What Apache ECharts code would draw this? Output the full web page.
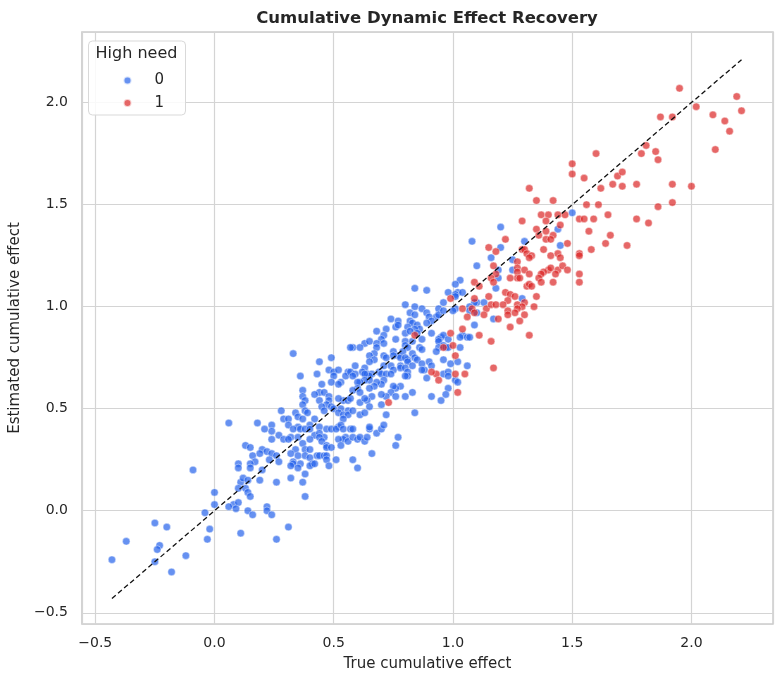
<!DOCTYPE html>
<html>
<head>
<meta charset="utf-8">
<script src="https://cdn.jsdelivr.net/npm/echarts@6/dist/echarts.min.js"></script>
<style>
html, body { margin: 0; padding: 0; background: #fff; }
#main { width: 784px; height: 684px; }
</style>
</head>
<body>
<div id="main"></div>
<script>
// points, [true effect, estimated effect]
var lowNeed = [
  [0.06,0.43],[0.18,0.43],[0.24,0.42],[0.24,0.39],[0.21,0.40],[0.27,0.37],[0.24,0.35],[0.29,0.35],[0.13,0.32],[0.15,0.31],
  [0.20,0.30],[0.22,0.29],[0.19,0.28],[0.16,0.27],[0.24,0.28],[0.26,0.27],[0.27,0.24],[0.23,0.25],[0.17,0.24],[0.10,0.23],
  [0.10,0.21],[0.15,0.23],[0.15,0.21],[0.20,0.20],[-0.09,0.20],[0.19,0.15],[0.26,0.14],[0.11,0.14],[0.12,0.16],[0.14,0.15],
  [0.10,0.11],[0.13,0.11],[0.14,0.09],[0.15,0.07],[0.00,0.09],[0.00,0.03],[0.08,0.03],[0.10,0.04],[0.06,0.02],[0.09,0.01],
  [0.14,0.00],[0.16,-0.02],[0.22,0.02],[0.22,0.00],[0.24,-0.02],[-0.04,-0.01],[-0.25,-0.06],[-0.20,-0.08],[-0.02,-0.09],[0.11,-0.11],
  [-0.03,-0.14],[0.26,-0.14],[-0.37,-0.15],[-0.23,-0.17],[-0.24,-0.19],[-0.12,-0.22],[-0.25,-0.25],[-0.43,-0.24],[-0.18,-0.30],
  [0.31,-0.08],[0.37,0.14],[0.38,0.07],[0.32,0.16],
  [0.33,0.77],[0.49,0.75],[0.44,0.73],[0.36,0.66],[0.43,0.67],[0.48,0.69],[0.50,0.68],[0.52,0.69],[0.56,0.68],[0.55,0.66],
  [0.50,0.66],[0.49,0.63],[0.53,0.63],[0.52,0.62],[0.45,0.62],[0.44,0.58],[0.37,0.59],[0.37,0.56],[0.38,0.54],[0.37,0.52],
  [0.42,0.57],[0.46,0.58],[0.48,0.56],[0.48,0.54],[0.44,0.54],[0.47,0.52],[0.45,0.51],[0.54,0.54],[0.52,0.55],[0.49,0.51],
  [0.50,0.50],[0.56,0.54],[0.57,0.55],[0.56,0.49],[0.53,0.50],[0.28,0.49],[0.38,0.49],[0.39,0.48],[0.46,0.49],[0.52,0.48],
  [0.54,0.47],[0.56,0.47],[0.54,0.45],[0.34,0.48],[0.35,0.46],[0.29,0.45],[0.31,0.45],[0.37,0.45],[0.42,0.45],
  [0.31,0.42],[0.35,0.41],[0.33,0.40],[0.36,0.40],[0.32,0.36],[0.31,0.35],[0.35,0.36],[0.40,0.42],[0.38,0.40],[0.40,0.40],
  [0.42,0.37],[0.40,0.35],[0.44,0.41],[0.44,0.38],[0.46,0.36],[0.44,0.36],[0.45,0.34],[0.47,0.40],[0.49,0.40],[0.47,0.32],
  [0.47,0.31],[0.49,0.31],[0.37,0.33],[0.38,0.30],[0.40,0.30],[0.34,0.30],[0.35,0.27],[0.32,0.28],[0.33,0.24],[0.33,0.23],
  [0.32,0.22],[0.36,0.23],[0.35,0.21],[0.38,0.27],[0.40,0.26],[0.41,0.23],[0.40,0.22],[0.42,0.23],[0.38,0.18],[0.43,0.27],
  [0.44,0.27],[0.46,0.27],[0.47,0.27],[0.51,0.25],[0.47,0.25],[0.48,0.22],[0.52,0.41],[0.51,0.40],[0.53,0.42],[0.54,0.40],
  [0.55,0.36],[0.54,0.35],[0.56,0.34],[0.52,0.35],[0.53,0.32],[0.57,0.40],[0.58,0.40],[0.58,0.36],[0.60,0.35],[0.61,0.36],
  [0.63,0.34],[0.65,0.40],[0.65,0.41],[0.64,0.36],[0.68,0.38],[0.70,0.40],[0.58,0.25],[0.60,0.21],[0.66,0.28],[0.71,0.42],
  [0.77,0.36],[0.76,0.32],
  [1.08,1.32],[1.16,1.24],[1.10,1.20],[1.19,1.18],[1.19,1.14],[1.03,1.13],[1.01,1.11],[1.18,1.09],[0.84,1.09],[0.89,1.08],
  [0.98,1.07],[1.02,1.07],[1.01,1.06],[1.04,1.07],[1.01,1.05],[1.10,1.02],[1.09,1.02],[1.13,1.02],[0.96,1.02],[1.01,0.99],
  [1.00,0.98],[1.07,1.00],[1.07,0.98],[1.10,0.97],[1.17,0.94],[0.84,1.00],[0.80,1.01],[0.87,0.99],[0.89,0.97],[0.94,0.99],
  [0.93,0.95],[0.94,0.96],[0.96,0.98],[0.90,0.95],[0.91,0.93],[0.82,0.97],[0.84,0.96],[0.82,0.93],[0.83,0.92],[0.81,0.90],
  [0.74,0.94],[0.77,0.93],[0.76,0.90],[0.77,0.91],[0.85,0.91],[0.86,0.89],[0.84,0.89],[0.85,0.87],[0.89,0.92],[0.91,0.87],
  [0.80,0.87],[0.82,0.88],[0.72,0.89],[0.68,0.88],[0.87,0.84],[0.80,0.83],[0.83,0.83],[0.71,0.86],[0.70,0.84],[0.76,0.84],
  [1.04,0.86],[1.03,0.85],[0.95,0.85],[0.96,0.86],[0.94,0.84],[0.94,0.83],[0.98,0.84],[1.06,0.85],[1.07,0.85],[0.63,0.82],
  [0.65,0.83],[0.58,0.80],[0.57,0.80],[0.61,0.80],[0.68,0.82],[0.68,0.80],[0.67,0.77],[0.71,0.82],[0.80,0.81],[0.81,0.80],
  [0.86,0.80],[0.87,0.79],[0.96,0.81],[0.97,0.80],[0.98,0.80],[0.94,0.80],[1.03,0.80],[0.93,0.78],[0.75,0.78],[0.77,0.76],
  [0.75,0.76],[0.78,0.75],[0.71,0.76],[0.72,0.75],[0.65,0.76],[0.67,0.74],[0.65,0.73],[0.83,0.77],[0.84,0.75],[0.81,0.74],
  [0.79,0.78],[0.80,0.75],[0.81,0.73],[0.85,0.74],[0.96,0.74],[0.99,0.72],[1.06,0.71],[1.02,0.73],[0.59,0.71],[0.57,0.68],
  [0.63,0.70],[0.62,0.68],[0.64,0.67],[0.66,0.67],[0.65,0.66],[0.71,0.71],[0.69,0.68],[0.70,0.67],[0.72,0.67],[0.74,0.71],
  [0.75,0.69],[0.74,0.67],[0.78,0.71],[0.78,0.70],[0.80,0.70],[0.81,0.68],[0.81,0.66],[0.80,0.66],[0.83,0.71],[0.87,0.72],
  [0.88,0.69],[0.87,0.69],[0.90,0.73],[0.91,0.71],[0.89,0.65],[0.96,0.67],[0.98,0.68],[1.01,0.64],[1.02,0.63],[0.98,0.66],
  [0.98,0.60],[0.97,0.57],[0.91,0.56],[0.95,0.54],[0.83,0.58],[0.80,0.56],[0.84,0.48],[0.78,0.61],[0.76,0.60],[0.75,0.61],
  [0.74,0.58],[0.72,0.56],[0.76,0.56],[0.71,0.64],[0.70,0.62],[0.68,0.63],[0.65,0.64],[0.67,0.61],[0.65,0.60],[0.63,0.67],
  [0.63,0.64],[0.61,0.63],[0.59,0.67],[0.58,0.66],[0.60,0.63],[0.60,0.60],[0.58,0.59],[0.61,0.58],[0.70,0.57],[0.66,0.56],
  [0.64,0.54],[0.61,0.53],[0.63,0.55],[0.65,0.51],[0.70,0.52],[0.72,0.47],[0.61,0.47],[0.63,0.48],[0.58,0.49],[1.09,0.91],
  [1.20,1.39],[1.50,1.46],[1.44,1.38],[1.30,1.32],[1.45,1.30],[1.20,1.29],[1.25,1.23],[1.25,1.18],[1.29,1.04]
];

var highNeed = [
  [1.15,1.29],[1.18,1.27],[1.17,1.20],[1.18,1.16],[1.16,1.14],[1.17,1.12],[1.09,1.12],[1.11,1.10],[1.09,1.04],[1.15,1.05],
  [1.14,0.99],[1.16,1.01],[1.18,1.01],[0.99,1.04],[1.04,0.99],[1.08,0.99],[1.09,0.97],[1.13,0.96],[1.06,0.95],[1.19,0.94],
  [0.84,0.86],[0.99,0.87],[1.04,0.89],[1.11,0.86],[1.16,0.83],[0.96,0.80],[1.00,0.81],[1.01,0.76],[0.93,0.67],[0.91,0.68],
  [0.94,0.64],[1.01,0.67],[1.05,0.67],[1.02,0.58],[0.73,0.53],[1.17,0.70],
  [1.32,1.58],[1.35,1.52],[1.42,1.52],[1.62,1.58],[1.67,1.60],[1.71,1.59],[1.77,1.60],[1.92,1.60],[2.00,1.59],[1.56,1.50],
  [1.61,1.50],[1.92,1.51],[1.86,1.49],[1.65,1.45],[1.77,1.43],[1.82,1.41],[1.37,1.45],[1.40,1.45],[1.44,1.45],[1.47,1.45],
  [1.53,1.43],[1.55,1.43],[1.59,1.43],[1.29,1.42],[1.39,1.42],[1.45,1.40],[1.57,1.37],[1.35,1.38],[1.39,1.37],[1.42,1.35],
  [1.36,1.35],[1.66,1.35],[1.39,1.33],[1.41,1.33],[1.22,1.33],[1.64,1.31],[1.73,1.30],[1.48,1.31],[1.29,1.28],[1.30,1.28],
  [1.38,1.28],[1.58,1.28],[1.53,1.26],[1.53,1.25],[1.31,1.26],[1.33,1.25],[1.32,1.24],[1.41,1.25],[1.44,1.26],[1.45,1.24],
  [1.27,1.22],[1.27,1.19],[1.30,1.18],[1.40,1.18],[1.38,1.17],[1.41,1.19],[1.44,1.18],[1.46,1.20],[1.48,1.18],[1.53,1.16],
  [1.27,1.17],[1.27,1.14],[1.28,1.14],[1.32,1.16],[1.43,1.16],[1.37,1.16],[1.36,1.14],[1.37,1.12],[1.42,1.12],[1.53,1.12],
  [1.24,1.14],[1.31,1.10],[1.32,1.11],[1.33,1.10],[1.22,1.07],[1.24,1.06],[1.26,1.05],[1.35,1.05],[1.23,1.03],[1.21,1.01],
  [1.27,1.01],[1.30,1.02],[1.29,1.00],[1.34,1.00],[1.27,0.99],[1.23,0.98],[1.23,0.96],[1.26,0.97],[1.30,0.96],[1.28,0.93],
  [1.24,0.90],[1.32,0.86],
  [1.95,2.07],[2.19,2.03],[2.02,1.98],[2.21,1.96],[2.09,1.94],[2.14,1.91],[2.16,1.86],[2.10,1.77],[1.87,1.93],[1.92,1.93],
  [1.60,1.75],[1.50,1.70],[1.50,1.65],[1.55,1.63],[1.69,1.64],[1.71,1.66],[1.79,1.75],[1.81,1.79],[1.85,1.76],[1.86,1.72]
];

// ends of the y = x reference line
var diagonal = [-0.43, 2.21];
var xRange = [-0.556, 2.342];
var yRange = [-0.555, 2.346];

var FONT = '"DejaVu Sans", sans-serif';
var TEXT = '#262626';

function tickFormat(v) {
  return (v < 0 ? '\u2212' : '') + Math.abs(v).toFixed(1);
}

function axisBase(range, name, gap) {
  return {
    type: 'value',
    min: range[0],
    max: range[1],
    name: name,
    nameLocation: 'middle',
    nameGap: gap,
    nameTextStyle: { fontSize: 15, color: TEXT, fontFamily: FONT },
    axisLine: { show: false },
    axisTick: { show: false },
    axisLabel: {
      fontSize: 14, color: TEXT, fontFamily: FONT,
      showMinLabel: false, showMaxLabel: false,
      formatter: tickFormat
    },
    splitLine: { lineStyle: { color: '#d4d4d4', width: 1.2 } }
  };
}

var xAxis = axisBase(xRange, 'True cumulative effect', 33);
xAxis.axisLabel.margin = 12;
var yAxis = axisBase(yRange, 'Estimated cumulative effect', 49);
yAxis.axisLabel.margin = 14;

var myChart = echarts.init(document.getElementById('main'));
myChart.setOption({
  animation: false,
  backgroundColor: '#fff',
  grid: {
    left: 81, right: 11, top: 32, bottom: 60,
    show: true, borderColor: '#cccccc', borderWidth: 1.5
  },
  xAxis: xAxis,
  yAxis: yAxis,
  legend: {
    data: ['0', '1'],
    orient: 'vertical',
    left: 122.5,
    top: 72.5,
    padding: 0,
    itemWidth: 8,
    itemHeight: 8,
    itemGap: 6.6,
    icon: 'circle',
    textStyle: { fontSize: 15, color: TEXT, fontFamily: FONT, lineHeight: 16, padding: [0, 0, 0, 18] },
    z: 6
  },
  graphic: [
    {
      type: 'rect', z: 5,
      shape: { x: 88.5, y: 41, width: 97, height: 74, r: 4 },
      style: { fill: 'rgba(255,255,255,0.85)', stroke: '#d9d9d9', lineWidth: 1 }
    },
    {
      type: 'text', z: 6, x: 136.5, y: 54,
      style: {
        text: 'High need', fill: TEXT,
        font: '16px ' + FONT,
        align: 'center', verticalAlign: 'middle',
        textAlign: 'center', textVerticalAlign: 'middle'
      }
    },
    {
      type: 'text', z: 6, x: 427, y: 18.5,
      style: {
        text: 'Cumulative Dynamic Effect Recovery', fill: TEXT,
        font: 'bold 16.5px ' + FONT,
        align: 'center', verticalAlign: 'middle',
        textAlign: 'center', textVerticalAlign: 'middle'
      }
    }
  ],
  series: [
    {
      name: '0',
      type: 'scatter',
      data: lowNeed,
      symbolSize: 7.5,
      itemStyle: { color: '#2563eb', opacity: 0.7, borderColor: '#fff', borderWidth: 0.6 }
    },
    {
      name: '1',
      type: 'scatter',
      data: highNeed,
      symbolSize: 7.5,
      itemStyle: { color: '#dc2626', opacity: 0.7, borderColor: '#fff', borderWidth: 0.6 }
    },
    {
      name: 'identity',
      type: 'line',
      data: [[diagonal[0], diagonal[0]], [diagonal[1], diagonal[1]]],
      symbol: 'none',
      silent: true,
      z: 4,
      lineStyle: { color: '#111', width: 1.3, type: [5, 3] }
    }
  ]
});
</script>
</body>
</html>
